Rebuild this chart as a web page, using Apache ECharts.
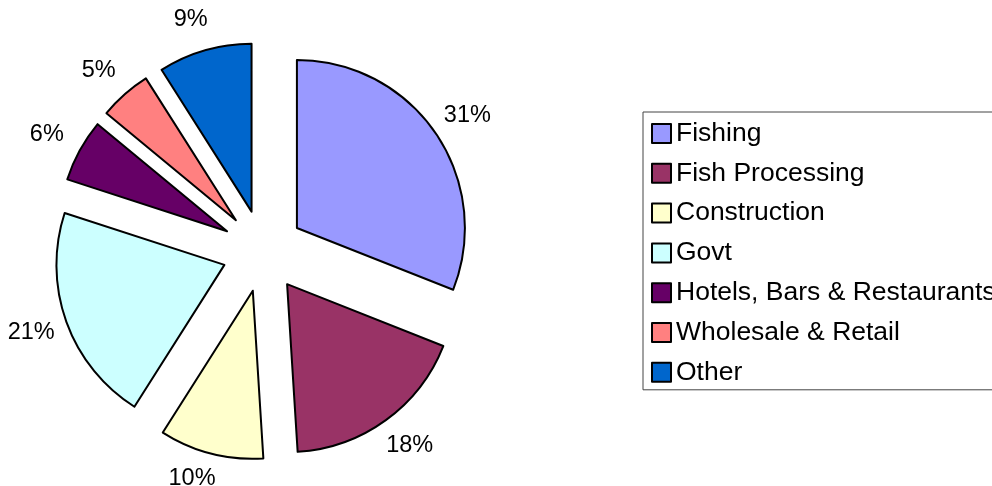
<!DOCTYPE html>
<html>
<head>
<meta charset="utf-8">
<script src="https://cdn.jsdelivr.net/npm/echarts@6/dist/echarts.min.js"></script>
<style>
  html, body { margin: 0; padding: 0; background: #fff; }
  #chart { width: 992px; height: 486px; }
</style>
</head>
<body>
<div id="chart"></div>
<script>
const sectors = ['Fishing', 'Fish Processing', 'Construction', 'Govt', 'Hotels, Bars & Restaurants', 'Wholesale & Retail', 'Other'];
const shares = [31, 18, 10, 21, 6, 5, 9];
const colors = ['#9999FF', '#993366', '#FFFFCC', '#CCFFFF', '#660066', '#FF8080', '#0066CC'];

const pieCenter = [263, 251];
const explode = 41;

const chart = echarts.init(document.getElementById('chart'), null, { renderer: 'canvas' });

const pieData = sectors.map((name, i) => ({
  name: name,
  value: shares[i],
  selected: true,
  itemStyle: { color: colors[i] }
}));

const option = {
  backgroundColor: '#fff',
  animation: false,
  legend: {
    orient: 'vertical',
    left: 643,
    top: 112,
    padding: [8, 30, 4, 8],
    itemWidth: 19,
    itemHeight: 19,
    itemGap: 12.8,
    borderColor: '#444',
    borderWidth: 1,
    icon: 'rect',
    itemStyle: { borderColor: '#000', borderWidth: 2 },
    textStyle: { fontFamily: 'Arial, "Liberation Sans"', fontSize: 26.5, lineHeight: 26, color: '#000' },
    selectedMode: false,
    data: sectors
  },
  series: [{
    type: 'pie',
    center: pieCenter,
    radius: 168,
    startAngle: 90,
    clockwise: true,
    selectedMode: 'multiple',
    selectedOffset: explode,
    avoidLabelOverlap: false,
    itemStyle: { borderColor: '#000', borderWidth: 2 },
    select: { itemStyle: { borderColor: '#000', borderWidth: 2 } },
    emphasis: { disabled: true },
    label: {
      show: true,
      position: 'outside',
      formatter: '{c}%',
      fontFamily: 'Arial, "Liberation Sans"',
      fontSize: 23.5,
      color: '#000'
    },
    labelLine: { show: false, length: 32, length2: 0 },
    labelLayout: function (p) {
      const out = { align: 'center', verticalAlign: 'middle' };
      // pull labels that fall off the bottom back up, as the original does
      const r = p.labelRect;
      const lx = r.x + r.width / 2 - pieCenter[0];
      const ly = r.y + r.height / 2 - pieCenter[1];
      const len = Math.sqrt(lx * lx + ly * ly) || 1;
      const bottom = r.y + r.height + explode * ly / len;
      if (bottom > 489) {
        out.dy = 489 - bottom;
        out.dx = -6;
      }
      return out;
    },
    data: pieData
  }]
};

chart.setOption(option);
</script>
</body>
</html>
